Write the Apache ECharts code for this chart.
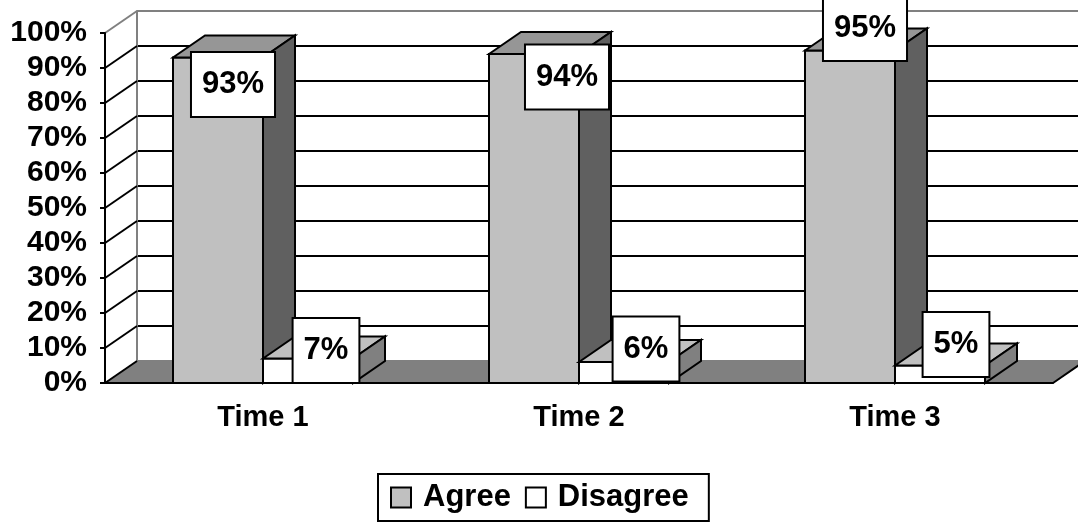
<!DOCTYPE html>
<html>
<head>
<meta charset="utf-8">
<script src="https://cdn.jsdelivr.net/npm/echarts@6/dist/echarts.min.js"></script>
<style>
  html, body { margin: 0; padding: 0; background: #fff; }
  #chart { width: 1078px; height: 525px; }
</style>
</head>
<body>
<div id="chart"></div>
<script>
const categories = ['Time 1', 'Time 2', 'Time 3']
const agree = [93, 94, 95]
const disagree = [7, 6, 5]
const yTicks = [0, 10, 20, 30, 40, 50, 60, 70, 80, 90, 100]

// label nudges (px) relative to front-top centre of each bar, as placed in the original
const agreeLabelShift = [[15, 27], [33, 23], [15, -22]]
const disagreeLabelShift = [[18, -8], [22, -13], [16, -21]]

const FONT = 'Arial, "Liberation Sans", sans-serif'
const DX = 32
const DY = -22
const BAR_FRAC = 90 / 316

const chart = echarts.init(document.getElementById('chart'))

function barRenderer(values, side, colors, shifts) {
  return (params, api) => {
    const ci = api.value(0)
    const v = api.value(1)
    const base = api.coord([ci, 0])
    const top = api.coord([ci, v])
    const bw = api.size([1, 0])[0] * BAR_FRAC
    const x0 = side === 'left' ? base[0] - bw : base[0]
    const x1 = x0 + bw
    const yT = top[1]
    const yB = base[1]
    const edge = { stroke: '#000', lineWidth: 2, lineJoin: 'miter' }
    const sh = shifts[params.dataIndex]
    return {
      type: 'group',
      children: [
        { type: 'polygon', shape: { points: [[x0, yT], [x1, yT], [x1, yB], [x0, yB]] },
          style: { fill: colors[0], ...edge } },
        { type: 'polygon', shape: { points: [[x0, yT], [x0 + DX, yT + DY], [x1 + DX, yT + DY], [x1, yT]] },
          style: { fill: colors[1], ...edge } },
        { type: 'polygon', shape: { points: [[x1, yT], [x1 + DX, yT + DY], [x1 + DX, yB + DY], [x1, yB]] },
          style: { fill: colors[2], ...edge } },
        { type: 'text', z2: 10,
          style: {
            text: values[params.dataIndex] + '%',
            x: x0 + bw / 2 + sh[0],
            y: yT + sh[1],
            align: 'center',
            verticalAlign: 'middle',
            fill: '#000',
            font: 'bold 31px ' + FONT,
            lineHeight: 31,
            backgroundColor: '#fff',
            borderColor: '#000',
            borderWidth: 2,
            padding: [16, 10, 16, 10],
          } },
      ],
    }
  }
}

const option = {
  animation: false,
  grid: [
    { left: 105, right: 25, top: 33, bottom: 142 },
    { left: 105 + DX, width: 948, top: 33 + DY, height: 350 },
  ],
  legend: {
    data: ['Agree', 'Disagree'],
    left: 378,
    top: 474,
    icon: 'rect',
    itemWidth: 20,
    itemHeight: 20,
    itemGap: 14,
    padding: [8, 20, 8, 12],
    borderColor: '#000',
    borderWidth: 2,
    itemStyle: { borderColor: '#000', borderWidth: 2 },
    textStyle: { fontSize: 31, fontWeight: 'bold', color: '#000', fontFamily: FONT, padding: [0, 0, 0, 7] },
  },
  xAxis: [
    {
      type: 'category',
      gridIndex: 0,
      data: categories,
      z: 5,
      axisLine: { lineStyle: { color: '#000', width: 2 } },
      axisTick: { length: 6, lineStyle: { color: '#000', width: 2 } },
      axisLabel: { margin: 20, fontSize: 29, fontWeight: 'bold', color: '#000', fontFamily: FONT },
    },
    {
      type: 'category',
      gridIndex: 1,
      data: categories,
      show: false,
    },
  ],
  yAxis: [
    {
      type: 'value',
      gridIndex: 0,
      min: 0,
      max: 100,
      interval: 10,
      z: 5,
      splitLine: { show: false },
      axisLine: { show: true, lineStyle: { color: '#000', width: 2 } },
      axisTick: { show: true, length: 5, lineStyle: { color: '#000', width: 2 } },
      axisLabel: { margin: 18, fontSize: 30, fontWeight: 'bold', color: '#000', fontFamily: FONT, formatter: '{value}%' },
    },
    {
      type: 'value',
      gridIndex: 1,
      min: 0,
      max: 100,
      interval: 10,
      z: 0,
      axisLabel: { show: false },
      axisTick: { show: false },
      axisLine: { show: true, lineStyle: { color: '#808080', width: 2 } },
      splitLine: {
        show: true,
        lineStyle: {
          width: 2,
          color: ['#808080', '#000', '#000', '#000', '#000', '#000', '#000', '#000', '#000', '#000', '#808080'],
        },
      },
    },
  ],
  series: [
    {
      // floor
      type: 'custom',
      name: 'floor',
      z: 1,
      clip: false,
      silent: true,
      data: [[0, 0]],
      renderItem: (params, api) => {
        const w = api.size([1, 0])[0]
        const a = api.coord([0, 0])
        const b = api.coord([categories.length - 1, 0])
        const xl = a[0] - w / 2
        const xr = b[0] + w / 2
        const y = a[1]
        return {
          type: 'group',
          children: [
            { type: 'polygon', shape: { points: [[xl, y], [xr, y], [xr + DX, y + DY], [xl + DX, y + DY]] },
              style: { fill: '#808080', stroke: '#808080', lineWidth: 1 } },
            { type: 'line', shape: { x1: xr, y1: y, x2: xr + DX, y2: y + DY },
              style: { stroke: '#000', lineWidth: 2 } },
          ],
        }
      },
    },
    {
      // side-wall diagonals at each tick
      type: 'custom',
      name: 'wall',
      z: 1,
      clip: false,
      silent: true,
      data: yTicks.map((t) => [0, t]),
      renderItem: (params, api) => {
        const w = api.size([1, 0])[0]
        const p = api.coord([0, api.value(1)])
        const x = p[0] - w / 2
        const isTop = api.value(1) === yTicks[yTicks.length - 1]
        return {
          type: 'line',
          shape: { x1: x, y1: p[1], x2: x + DX, y2: p[1] + DY },
          style: { stroke: isTop ? '#808080' : '#000', lineWidth: 2 },
        }
      },
    },
    {
      type: 'custom',
      name: 'Agree',
      z: 2,
      clip: false,
      itemStyle: { color: '#c0c0c0', borderColor: '#000', borderWidth: 2 },
      data: agree.map((v, i) => [i, v]),
      renderItem: barRenderer(agree, 'left', ['#c0c0c0', '#969696', '#606060'], agreeLabelShift),
    },
    {
      type: 'custom',
      name: 'Disagree',
      z: 2,
      clip: false,
      itemStyle: { color: '#ffffff', borderColor: '#000', borderWidth: 2 },
      data: disagree.map((v, i) => [i, v]),
      renderItem: barRenderer(disagree, 'right', ['#ffffff', '#c0c0c0', '#808080'], disagreeLabelShift),
    },
  ],
}

chart.setOption(option)
</script>
</body>
</html>
